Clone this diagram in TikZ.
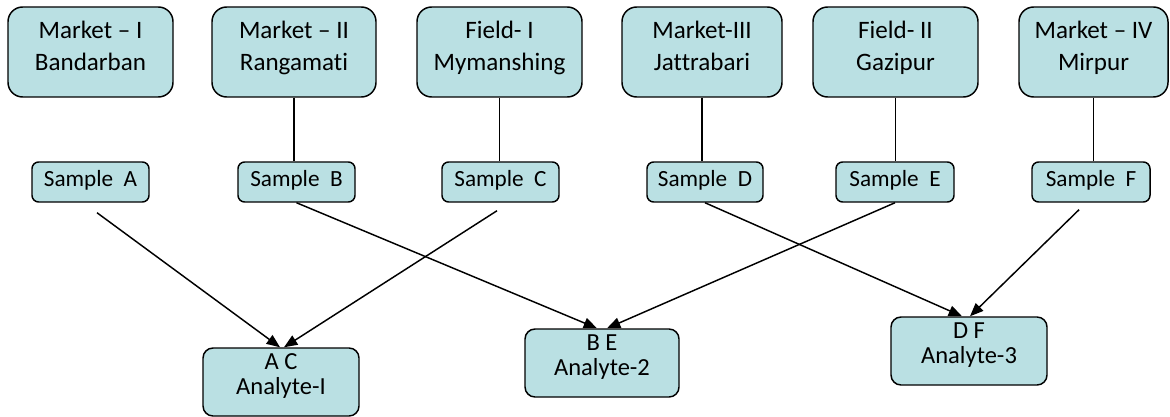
\documentclass[tikz,border=0pt]{standalone}
\usepackage{fontspec}
\setmainfont{Carlito}[Ligatures=NoCommon]
\usetikzlibrary{arrows.meta}
\definecolor{boxfill}{RGB}{186,224,227}
\newcommand\xdp[1]{\rule[-#1]{0pt}{#1}}
\begin{document}
\begin{tikzpicture}[x=0.75pt,y=-0.75pt,
  box/.style={draw=black, line width=1.1pt, fill=boxfill, align=center, inner sep=0pt},
  topbox/.style={box, rounded corners=11pt, minimum height=67.5pt, font=\fontsize{18.8}{24}\selectfont},
  smpbox/.style={box, rounded corners=5pt, minimum height=30pt, minimum width=87.75pt, font=\fontsize{17.4}{17.6}\selectfont},
  anabox/.style={box, rounded corners=7.5pt, minimum height=51pt, font=\fontsize{18.4}{16.5}\selectfont},
  link/.style={line width=1.1pt},
  arr/.style={line width=1.1pt, -{Triangle[length=10pt,width=8pt]}},
]
\useasboundingbox (0,0) rectangle (1170,417);

% top boxes
\node[topbox, minimum width=123.75pt] (m1) at (90.5,52) {\strut Market – I\\\strut Bandarban\xdp{13.4pt}};
\node[topbox, minimum width=123pt] (m2) at (294,52) {\strut Market – II\\\strut Rangamati\xdp{13.4pt}};
\node[topbox, minimum width=123.75pt] (f1) at (499.5,52) {\strut Field- I\\\strut Mymanshing\xdp{13.4pt}};
\node[topbox, minimum width=120pt] (m3) at (702,52) {\strut Market-III\\\strut Jattrabari\xdp{13.4pt}};
\node[topbox, minimum width=123.75pt] (f2) at (895.5,52) {\strut Field- II\\\strut Gazipur\xdp{13.4pt}};
\node[topbox, minimum width=111.75pt] (m4) at (1093.5,52) {\strut Market – IV\\\strut Mirpur\xdp{13.4pt}};

% sample boxes
\node[smpbox] (sA) at (90.5,182) {\strut Sample~~A};
\node[smpbox] (sB) at (296.5,182) {\strut Sample~~B};
\node[smpbox] (sC) at (500.5,182) {\strut Sample~~C};
\node[smpbox, minimum width=87pt] (sD) at (705,182) {\strut Sample~~D};
\node[smpbox, minimum width=88.5pt] (sE) at (895,182) {\strut Sample~~E};
\node[smpbox, minimum width=88.5pt] (sF) at (1091,182) {\strut Sample~~F};

% analyte boxes
\node[anabox, minimum width=117pt] (a1) at (281,382) {\strut A C\\\strut Analyte-I\xdp{12.3pt}};
\node[anabox, minimum width=115.5pt] (a2) at (602,363) {\strut B E\\\strut Analyte-2\xdp{12.3pt}};
\node[anabox, minimum width=117pt] (a3) at (969,351) {\strut D F\\\strut Analyte-3\xdp{12.3pt}};

% vertical links
\draw[link] (m2.south) -- (m2.south |- sB.north);
\draw[link] (f1.south) -- (f1.south |- sC.north);
\draw[link] (m3.south) -- (m3.south |- sD.north);
\draw[link] (f2.south) -- (f2.south |- sE.north);
\draw[link] (m4.south) -- (m4.south |- sF.north);

% arrows
\draw[arr] ([shift={(6.5,10)}]sA.south) -- ([xshift=-0.75pt]a1.north);
\draw[arr] ([shift={(-3.5,8)}]sC.south) -- ([xshift=2.25pt]a1.north);
\draw[arr] (sB.south) -- ([xshift=-3.75pt]a2.north);
\draw[arr] (sE.south) -- ([xshift=3.75pt]a2.north);
\draw[arr] (sD.south) -- ([xshift=-5.25pt]a3.north);
\draw[arr] ([shift={(-12,7)}]sF.south) -- ([xshift=0.75pt]a3.north);
\end{tikzpicture}
\end{document}
